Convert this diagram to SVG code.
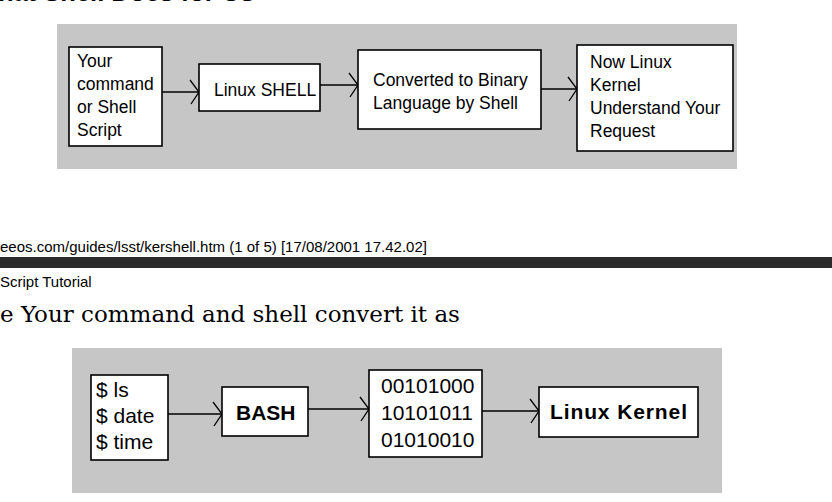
<svg xmlns="http://www.w3.org/2000/svg" width="832" height="502" viewBox="0 0 832 502">
<defs>
<style>
.panel{fill:#c6c6c6}
.box{fill:#fff;stroke:#000;stroke-width:1.6}
.t{font-family:"Liberation Sans",Arial,sans-serif;font-size:17.5px;fill:#000}
.tb{font-family:"Liberation Sans",Arial,sans-serif;font-size:21px;fill:#000}
.bold{font-weight:bold}
.line{stroke:#000;stroke-width:1.4;fill:none}
.page{font-family:"Liberation Sans",Arial,sans-serif;font-size:15px;fill:#000}
.serif{font-family:"DejaVu Serif",serif;font-size:23px;fill:#000}
</style>
<marker id="arr" markerUnits="userSpaceOnUse" markerWidth="20" markerHeight="30" viewBox="-12 -15 14 30" refX="0" refY="0" orient="auto">
<path d="M-9,-12 L0,0 L-8,12" fill="none" stroke="#000" stroke-width="1.3"/>
</marker>
</defs>
<rect width="832" height="502" fill="#fff"/>

<text x="-2" y="1" font-family="Liberation Sans, Arial, sans-serif" font-size="25.5" font-weight="bold" fill="#000">hat Shell Does for Us</text>

<rect class="panel" x="57" y="24" width="680" height="145"/>
<rect class="panel" x="72" y="348" width="650" height="145"/>

<text class="page" x="0" y="252">eeos.com/guides/lsst/kershell.htm (1 of 5) [17/08/2001 17.42.02]</text>
<rect x="0" y="257" width="832" height="11" fill="#2b2b2b"/>
<text class="page" x="0" y="287" font-size="14.5">Script Tutorial</text>
<text class="serif" x="0" y="322">e Your command and shell convert it as</text>

<g id="connectors">
<line class="line" x1="162" y1="92" x2="199" y2="92" marker-end="url(#arr)"/>
<line class="line" x1="320" y1="85" x2="358" y2="85" marker-end="url(#arr)"/>
<line class="line" x1="541" y1="89" x2="577" y2="89" marker-end="url(#arr)"/>
<line class="line" x1="168" y1="414" x2="222" y2="414" marker-end="url(#arr)"/>
<line class="line" x1="308" y1="409" x2="369" y2="409" marker-end="url(#arr)"/>
<line class="line" x1="482" y1="411" x2="539" y2="411" marker-end="url(#arr)"/>
</g>

<g id="n-command">
<rect class="box" x="69" y="47" width="93" height="99"/>
<text class="t" x="77" y="67">Your</text>
<text class="t" x="77" y="90">command</text>
<text class="t" x="77" y="113">or Shell</text>
<text class="t" x="77" y="136">Script</text>
</g>
<g id="n-shell">
<rect class="box" x="199" y="64" width="121" height="47"/>
<text class="t" x="214" y="96">Linux SHELL</text>
</g>
<g id="n-converted">
<rect class="box" x="358" y="50" width="183" height="79"/>
<text class="t" x="373" y="86">Converted to Binary</text>
<text class="t" x="373" y="109">Language by Shell</text>
</g>
<g id="n-kernel-understand">
<rect class="box" x="577" y="45" width="156" height="106"/>
<text class="t" x="590" y="68">Now Linux</text>
<text class="t" x="590" y="91">Kernel</text>
<text class="t" x="590" y="114" font-size="17.8">Understand Your</text>
<text class="t" x="590" y="137">Request</text>
</g>

<g id="n-commands">
<rect class="box" x="91" y="375" width="77" height="85"/>
<text class="tb" x="96" y="397">$ ls</text>
<text class="tb" x="96" y="423">$ date</text>
<text class="tb" x="96" y="449">$ time</text>
</g>
<g id="n-bash">
<rect class="box" x="222" y="387" width="86" height="49"/>
<text class="tb bold" x="236" y="420">BASH</text>
</g>
<g id="n-binary">
<rect class="box" x="369" y="370" width="113" height="87"/>
<text class="tb" x="381" y="393">00101000</text>
<text class="tb" x="381" y="420">10101011</text>
<text class="tb" x="381" y="447">01010010</text>
</g>
<g id="n-linux-kernel">
<rect class="box" x="539" y="387" width="159" height="50"/>
<text class="tb bold" x="550" y="419" font-size="22.3" textLength="137" lengthAdjust="spacing">Linux Kernel</text>
</g>
</svg>
